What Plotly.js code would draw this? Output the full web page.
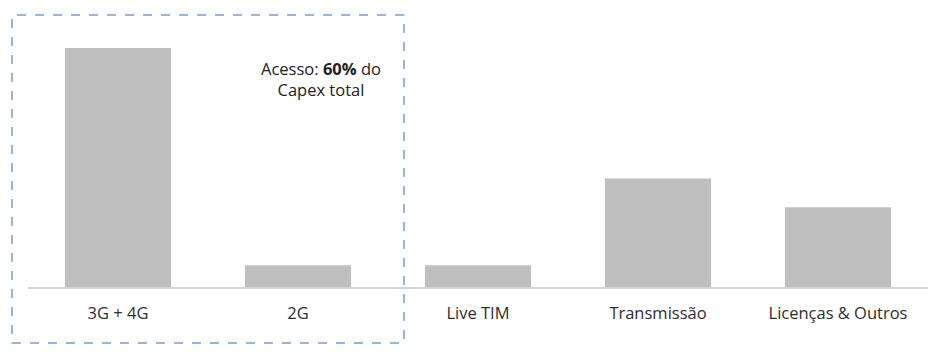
<!DOCTYPE html>
<html>
<head>
<meta charset="utf-8">
<script src="https://cdn.plot.ly/plotly-3.0.1.min.js"></script>
<style>html,body{margin:0;padding:0;background:#fff;}#chart{width:928px;height:358px;}</style>
</head>
<body>
<div id="chart"></div>
<script>
const categories = ["3G + 4G", "2G", "Live TIM", "Transmissão", "Licenças & Outros"];
const values = [6.6, 0.6, 0.6, 3.0, 2.2];
const noteText = "Acesso: <b>60%</b> do<br>Capex total";

const trace = {
  type: "bar",
  x: categories,
  y: values,
  marker: {color: "#bfbfbf"},
  hoverinfo: "skip"
};

const layout = {
  width: 928,
  height: 358,
  margin: {l: 28, r: 0, t: 20, b: 71},
  paper_bgcolor: "#ffffff",
  plot_bgcolor: "#ffffff",
  bargap: 0.41,
  showlegend: false,
  font: {family: "Open Sans, Liberation Sans, sans-serif", color: "#333333", size: 16},
  xaxis: {
    type: "category",
    range: [-0.5, 4.5],
    autorange: false,
    showgrid: false,
    showline: true,
    linecolor: "#d4d4d4",
    linewidth: 2,
    ticks: "",
    tickfont: {size: 16.5, color: "#2e2e2e"},
    ticklabelstandoff: 10
  },
  yaxis: {
    range: [0, 7.375],
    visible: false,
    showgrid: false,
    zeroline: false
  },
  shapes: [{
    type: "rect",
    xref: "paper", yref: "paper",
    x0: -0.0178, x1: 0.4178,
    y0: -0.2097, y1: 1.0187,
    line: {color: "#6f9fd8", width: 1.5, dash: "dash"},
    fillcolor: "rgba(0,0,0,0)"
  }],
  annotations: [{
    xref: "x", yref: "paper",
    x: 1.128, y: 0.779,
    xanchor: "center", yanchor: "middle",
    text: noteText,
    showarrow: false,
    align: "center",
    font: {size: 16.5, color: "#222222"}
  }]
};

Plotly.newPlot("chart", [trace], layout, {displayModeBar: false, staticPlot: true});
</script>
</body>
</html>
